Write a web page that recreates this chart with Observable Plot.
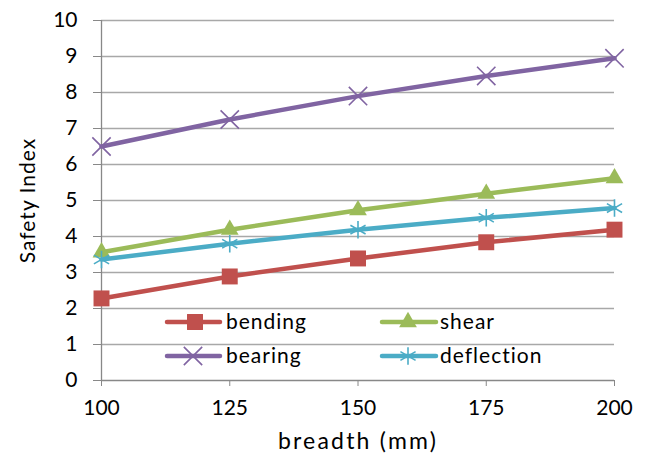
<!DOCTYPE html>
<html><head><meta charset="utf-8">
<script src="https://cdn.jsdelivr.net/npm/d3@7"></script>
<script src="https://cdn.jsdelivr.net/npm/@observablehq/plot@0.6"></script>
<style>
body{margin:0;background:#fff;}
#wrap{position:relative;width:646px;height:455px;font-family:Lato,sans-serif;}
#wrap svg{display:block;}
</style></head><body><div id="wrap"></div>
<script>
const breadth = [100, 125, 150, 175, 200];
const bending = [2.28, 2.89, 3.39, 3.84, 4.19];
const shear = [3.56, 4.19, 4.73, 5.19, 5.62];
const bearing = [6.5, 7.25, 7.9, 8.46, 8.95];
const deflection = [3.36, 3.8, 4.19, 4.52, 4.79];
const yTicks = [0, 1, 2, 3, 4, 5, 6, 7, 8, 9, 10];
const seriesNames = ["bending", "shear", "bearing", "deflection"];
const seriesValues = [bending, shear, bearing, deflection];
const seriesColors = ["#C0504D", "#9BBB59", "#8064A2", "#4BACC6"];
const seriesSymbols = ["square", "triangle", "times", "asterisk"];
const symbolR = [9, 6.6, 8.4, 8.3];
const xLabel = "breadth (mm)";
const yLabel = "Safety Index";

const rows = [];
seriesNames.forEach((s, i) => breadth.forEach((b, j) => rows.push({series: s, x: b, y: seriesValues[i][j]})));

const marks = [
  Plot.ruleY(yTicks.slice(1), {stroke: "#a8a8a8", strokeWidth: 1.3}),
  Plot.ruleY([0], {stroke: "#888", strokeWidth: 1.3}),
  Plot.ruleX([breadth[0]], {stroke: "#888", strokeWidth: 1.3}),
  Plot.axisY({ticks: yTicks, tickSize: 8, tickPadding: 16, stroke: "#888", fill: "#000", fontSize: 21,
    label: yLabel, labelAnchor: "center", labelOffset: 81, labelArrow: "none"}),
  Plot.axisX({ticks: breadth, tickSize: 6, tickPadding: 14, stroke: "#888", fill: "#000", fontSize: 21,
    label: xLabel, labelAnchor: "center", labelOffset: 68, labelArrow: "none", tickFormat: d => String(d)})
];
seriesNames.forEach((s, i) => {
  const d = rows.filter(r => r.series === s);
  marks.push(Plot.line(d, {x: "x", y: "y", stroke: seriesColors[i], strokeWidth: 4.5}));
  const stroked = seriesSymbols[i] === "times" || seriesSymbols[i] === "asterisk";
  marks.push(Plot.dot(d, stroked
    ? {x: "x", y: "y", symbol: seriesSymbols[i], r: symbolR[i], stroke: seriesColors[i], strokeWidth: 1.6, fill: "none"}
    : {x: "x", y: "y", symbol: seriesSymbols[i], r: symbolR[i], fill: seriesColors[i], stroke: "none"}));
});

const chart = Plot.plot({
  width: 646, height: 455,
  marginLeft: 101, marginRight: 32, marginTop: 20, marginBottom: 75,
  x: {type: "linear", domain: [100, 200]},
  y: {domain: [0, 10]},
  style: {fontFamily: "Lato, sans-serif", fontSize: "21px", color: "#000", background: "#fff", overflow: "visible"},
  marks
});
const wrap = document.getElementById("wrap");
wrap.appendChild(chart);

// font tweaks for axis titles
d3.select(chart).selectAll('g[aria-label="x-axis label"] text').style("font-size", "23px").style("letter-spacing", "2.2px");
d3.select(chart).selectAll('g[aria-label="y-axis label"] text').style("font-size", "21px").style("letter-spacing", "1px");

// legend overlay
const legendPos = [
  {x1: 167, x2: 220, sx: 195, tx: 226, y: 322},
  {x1: 382, x2: 436, sx: 408, tx: 440, y: 322},
  {x1: 167, x2: 220, sx: 193, tx: 226, y: 356},
  {x1: 382, x2: 436, sx: 408, tx: 440, y: 356}
];
const lg = d3.select(wrap).append("svg")
  .attr("width", 646).attr("height", 455)
  .style("position", "absolute").style("left", 0).style("top", 0).style("pointer-events", "none");
const symMap = {square: d3.symbolSquare, triangle: d3.symbolTriangle, times: d3.symbolTimes, asterisk: d3.symbolAsterisk};
seriesNames.forEach((s, i) => {
  const p = legendPos[i];
  const g = lg.append("g");
  g.append("line").attr("x1", p.x1).attr("x2", p.x2).attr("y1", p.y).attr("y2", p.y)
    .attr("stroke", seriesColors[i]).attr("stroke-width", 4.5).attr("stroke-linecap", "round");
  const stroked = seriesSymbols[i] === "times" || seriesSymbols[i] === "asterisk";
  const path = d3.symbol(symMap[seriesSymbols[i]], Math.PI * symbolR[i] * symbolR[i])();
  g.append("path").attr("d", path).attr("transform", `translate(${p.sx},${p.y})`)
    .attr("fill", stroked ? "none" : seriesColors[i])
    .attr("stroke", stroked ? seriesColors[i] : "none").attr("stroke-width", 1.6);
  g.append("text").attr("x", p.tx).attr("y", p.y).attr("dy", "0.35em")
    .attr("font-family", "Lato, sans-serif").attr("font-size", 21).style("letter-spacing", "1px")
    .attr("fill", "#000").text(s);
});
</script></body></html>
